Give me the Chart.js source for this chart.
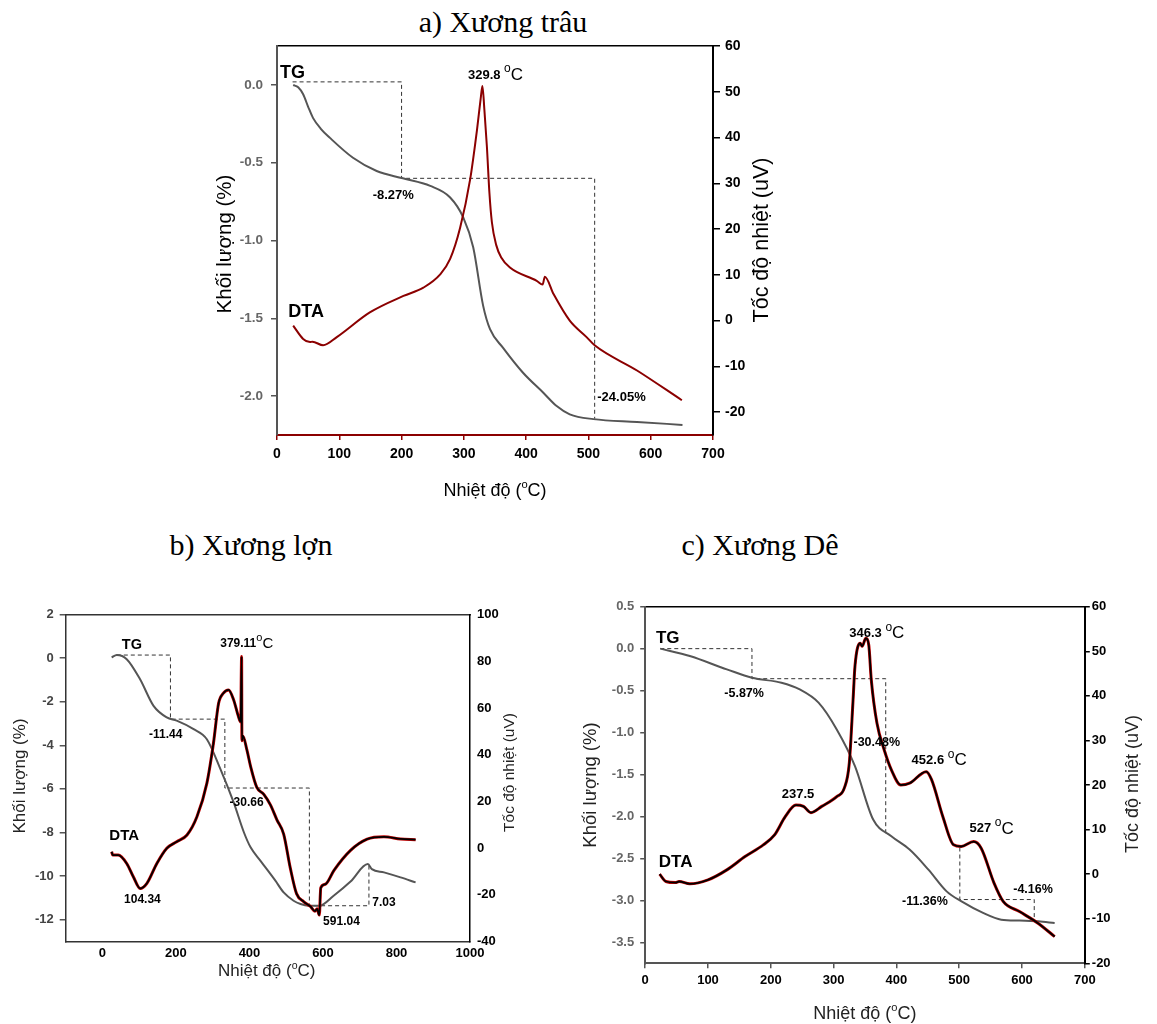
<!DOCTYPE html>
<html lang="vi">
<head>
<meta charset="utf-8">
<title>TG - DTA</title>
<script src="https://cdn.jsdelivr.net/npm/chart.js@4.4.1/dist/chart.umd.min.js"></script>
<style>
  body { margin: 0; width: 1157px; height: 1024px; position: relative; background: #fff; overflow: hidden; }
  .title { position: absolute; font-family: "Liberation Serif", "Times New Roman", serif; font-size: 30px; line-height: 34px; color: #000; transform: translateX(-50%); white-space: nowrap; }
  canvas { position: absolute; }
</style>
</head>
<body>
<div class="title" style="left:503px; top:5px">a) Xương trâu</div>
<div class="title" style="left:251px; top:528px">b) Xương lợn</div>
<div class="title" style="left:760px; top:528px">c) Xương Dê</div>
<canvas id="chartA" width="600" height="480" style="left:200px; top:30px"></canvas>
<canvas id="chartB" width="540" height="410" style="left:0px; top:590px"></canvas>
<canvas id="chartC" width="582" height="434" style="left:575px; top:590px"></canvas>
<script>
// ---- a) Xương trâu ----
const tgTempA = [26, 34, 42, 50, 58, 70, 85, 122, 160, 202, 246, 278, 299, 315, 331, 342, 363, 395, 428, 449, 470, 508, 578, 651];
const tgMassA = [0.0, -0.015, -0.06, -0.14, -0.213, -0.28, -0.34, -0.468, -0.553, -0.60, -0.649, -0.723, -0.851, -1.043, -1.42, -1.57, -1.69, -1.85, -1.98, -2.064, -2.117, -2.148, -2.166, -2.185];
const dtaTempA = [26, 42, 53, 57, 74, 96, 149, 203, 235, 262, 278, 294, 310, 321, 327, 329.8, 333, 337, 341, 345, 352, 360, 374, 417, 426.5, 430, 444, 470, 497, 510, 578, 650];
const dtaUvA = [-1.1, -4.0, -4.7, -4.6, -5.4, -3.6, 1.8, 5.4, 7.2, 10.1, 13.5, 20.3, 30.8, 41.6, 48.5, 51.3, 46, 38, 28, 21.5, 16.5, 13.8, 11.6, 8.7, 7.9, 9.6, 5.8, 0.0, -3.6, -5.4, -10.9, -17.4];
const stepTempA = [25, 200, 200, 510, 510];
const stepMassA = [0.02, 0.02, -0.60, -0.60, -2.145];
const tempTicksA = [0, 100, 200, 300, 400, 500, 600, 700];
const massTicksA = [0.0, -0.5, -1.0, -1.5, -2.0];
const uvTicksA = [60, 50, 40, 30, 20, 10, 0, -10, -20];

// ---- b) Xương lợn ----
const tgTempB = [25, 39, 66, 102, 139, 175, 202, 248, 284, 321, 357, 385, 403, 430, 470, 493, 520, 539, 560, 590, 629, 675, 722, 733, 766, 811, 852];
const tgMassB = [0.03, 0.14, -0.05, -0.96, -2.19, -2.72, -2.87, -3.26, -3.72, -5.09, -6.62, -8.0, -8.68, -9.3, -10.2, -10.75, -11.13, -11.28, -11.36, -11.36, -10.9, -10.25, -9.45, -9.68, -9.83, -10.06, -10.29];
const dtaTempB = [25, 28, 43, 66, 84, 102.5, 121, 148, 175, 202, 230, 257, 284, 302, 316, 329, 343, 357, 370, 376, 378.6, 379.4, 382, 393, 403, 420, 439, 457, 475, 493, 511, 528, 548, 566, 578, 584, 590, 594, 606, 630, 675, 720, 766, 811, 852];
const dtaUvB = [-1.6, -3, -3, -6.6, -12.3, -17.3, -15.1, -6.6, -0.1, 2.7, 5.6, 13.4, 27.7, 44.9, 62, 66.3, 67.7, 63.4, 56.3, 54, 82, 46, 48, 42, 35, 26, 23, 18.5, 12, 6, -8.5, -19.5, -23, -25, -27, -26, -28.7, -17, -15.5, -9.5, -1, 3.8, 4.8, 3.9, 3.6];
const stepTempB = [39, 185, 185, 333, 333, 563, 563, 725, 725];
const stepMassB = [0.14, 0.14, -2.8, -2.8, -5.96, -5.96, -11.36, -11.36, -9.45];
const tempTicksB = [0, 200, 400, 600, 800, 1000];
const massTicksB = [2, 0, -2, -4, -6, -8, -10, -12];
const uvTicksB = [100, 80, 60, 40, 20, 0, -20, -40];

// ---- c) Xương Dê ----
const tgTempC = [24, 71, 130, 170, 217, 246, 276, 305, 334, 363, 392, 421, 451, 480, 503, 538, 567, 596, 626, 652];
const tgMassC = [0, -0.088, -0.247, -0.347, -0.406, -0.486, -0.644, -0.963, -1.4, -2.037, -2.236, -2.395, -2.634, -2.893, -3.01, -3.15, -3.23, -3.24, -3.25, -3.27];
const dtaTempC = [23, 33, 48, 54, 71, 100, 130, 159, 188, 206, 223, 240, 252, 264, 281, 305, 317, 325, 331, 334, 342.5, 345.4, 351.3, 356, 360, 369, 380.5, 392, 407, 421, 447.5, 456, 474, 491, 503, 523, 535, 555.5, 570, 596, 625.5, 652];
const dtaUvC = [0, -1.65, -1.9, -1.65, -2.18, -1.28, 0.96, 3.95, 6.57, 8.8, 12.9, 15.5, 15.2, 13.8, 15.2, 17.4, 19.3, 24.9, 39.1, 46.6, 51.8, 51.1, 52.9, 51.4, 43.6, 33.9, 27.9, 23.4, 20, 20.4, 23, 21.2, 12.9, 6.57, 6.2, 7.3, 5.83, -2, -6.1, -8.4, -11, -14];
const stepTempC1 = [24, 170, 170, 383, 383];
const stepMassC1 = [0, 0, -0.358, -0.358, -2.21];
const stepTempC2 = [501, 501, 619.5, 619.5];
const stepMassC2 = [-2.37, -2.99, -2.99, -3.25];
const tempTicksC = [0, 100, 200, 300, 400, 500, 600, 700];
const massTicksC = [0.5, 0.0, -0.5, -1.0, -1.5, -2.0, -2.5, -3.0, -3.5];
const uvTicksC = [60, 50, 40, 30, 20, 10, 0, -10, -20];

const FONT = '"Liberation Sans", Arial, sans-serif';
const GRAY = '#555';
const DARKRED = '#8b0000';

const pts = (xs, ys) => xs.map((x, i) => ({ x, y: ys[i] }));
const bold = (t, s) => ({ t, font: `bold ${s}px ${FONT}` });
const reg = (t, s) => ({ t, font: `${s}px ${FONT}` });
const sup = (s, dy) => ({ t: 'o', font: `${s}px ${FONT}`, dy });

// draws a run of text pieces with different fonts on one line
function drawRun(ctx, parts, x, y, align, color) {
  let total = 0;
  parts.forEach(p => { ctx.font = p.font; p.w = ctx.measureText(p.t).width; total += p.w; });
  let cx = align === 'center' ? x - total / 2 : (align === 'right' ? x - total : x);
  ctx.textAlign = 'left';
  ctx.textBaseline = 'middle';
  ctx.fillStyle = color || '#000';
  parts.forEach(p => {
    ctx.font = p.font;
    ctx.fillText(p.t, cx, y + (p.dy || 0));
    cx += p.w;
  });
}

const textPlugin = {
  id: 'texts',
  afterDatasetsDraw(chart, args, opts) {
    const ctx = chart.ctx;
    const xs = chart.scales.x, ys = chart.scales.y;
    ctx.save();
    (opts.labels || []).forEach(l => {
      drawRun(ctx, l.parts, xs.getPixelForValue(l.x), ys.getPixelForValue(l.y), l.align || 'left');
    });
    (opts.titles || []).forEach(t => {
      ctx.save();
      ctx.translate(t.px, t.py);
      if (t.rotate) ctx.rotate(-Math.PI / 2);
      drawRun(ctx, t.parts, 0, 0, 'center', t.color);
      ctx.restore();
    });
    ctx.restore();
  }
};

function fixTicks(values) {
  return scale => { scale.ticks = values.map(v => ({ value: v })); };
}

function lineSet(data, color, width, axis) {
  return {
    data, yAxisID: axis, borderColor: color, borderWidth: width,
    pointRadius: 0, fill: false, cubicInterpolationMode: 'monotone'
  };
}
function dashSet(data) {
  return {
    data, yAxisID: 'y', borderColor: '#333', borderWidth: 1, borderDash: [4, 3],
    pointRadius: 0, fill: false, tension: 0
  };
}

function makeChart(id, cfg) {
  const tickFont = s => ({ family: FONT, size: s, weight: 'bold' });
  const grid = (color, len, show) => ({
    display: show, drawOnChartArea: false, drawTicks: show, tickLength: len, color, lineWidth: 1.5
  });
  new Chart(document.getElementById(id), {
    type: 'line',
    data: { datasets: cfg.datasets },
    options: {
      responsive: false, animation: false, devicePixelRatio: 1,
      layout: { padding: 0 },
      plugins: { legend: { display: false }, tooltip: { enabled: false }, texts: cfg.texts },
      scales: {
        x: {
          type: 'linear', position: 'bottom', min: cfg.x.min, max: cfg.x.max,
          afterBuildTicks: fixTicks(cfg.x.ticks),
          afterFit: s => { s.height = cfg.box.bottom; },
          ticks: { font: tickFont(cfg.x.size), color: '#000', padding: cfg.x.pad, maxRotation: 0, callback: v => String(v) },
          grid: grid(cfg.x.gridColor, 5, cfg.x.tickMarks),
          border: { display: true, color: cfg.x.border, width: cfg.x.bw }
        },
        xt: {
          type: 'linear', position: 'top', min: cfg.x.min, max: cfg.x.max,
          afterFit: s => { s.height = cfg.box.top; },
          ticks: { display: false }, grid: { display: false, drawTicks: false },
          border: { display: true, color: cfg.topBorder, width: 1.5 }
        },
        y: {
          type: 'linear', position: 'left', min: cfg.y.min, max: cfg.y.max,
          afterBuildTicks: fixTicks(cfg.y.ticks),
          afterFit: s => { s.width = cfg.box.left; },
          ticks: { font: tickFont(cfg.y.size), color: cfg.y.color, padding: cfg.y.pad, callback: cfg.y.fmt },
          grid: grid(GRAY, cfg.y.tl, true),
          border: { display: true, color: cfg.y.border, width: cfg.y.bw }
        },
        y2: {
          type: 'linear', position: 'right', min: cfg.y2.min, max: cfg.y2.max,
          afterBuildTicks: fixTicks(cfg.y2.ticks),
          afterFit: s => { s.width = cfg.box.right; },
          ticks: { font: tickFont(cfg.y2.size), color: '#000', padding: cfg.y2.pad, callback: v => String(v) },
          grid: grid('#000', cfg.y2.tl, cfg.y2.tl > 0),
          border: { display: true, color: '#000', width: cfg.y2.bw }
        }
      }
    },
    plugins: [textPlugin]
  });
}

const degTitle = s => [reg('Nhiệt độ (', s), sup(s * 0.62, -s * 0.35), reg('C)', s)];

// a) Xương trâu  (first dataset is painted on top)
makeChart('chartA', {
  box: { left: 77, right: 87, top: 14, bottom: 75 },
  topBorder: '#000',
  x: { min: 0, max: 700, ticks: tempTicksA, size: 14, pad: 6, gridColor: DARKRED, tickMarks: true, border: DARKRED, bw: 2 },
  y: { min: -2.25, max: 0.25, ticks: massTicksA, size: 13.5, color: '#666', pad: 8, tl: 6, border: GRAY, bw: 2, fmt: v => v.toFixed(1) },
  y2: { min: -25, max: 60, ticks: uvTicksA, size: 14, pad: 5, tl: 7, bw: 2 },
  datasets: [
    lineSet(pts(dtaTempA, dtaUvA), DARKRED, 2, 'y2'),
    lineSet(pts(tgTempA, tgMassA), GRAY, 2, 'y'),
    dashSet(pts(stepTempA, stepMassA))
  ],
  texts: {
    labels: [
      { x: 4.8, y: 0.078, parts: [bold('TG', 18)] },
      { x: 306.6, y: 0.064, parts: [bold('329.8', 13), reg(' ', 13), sup(12, -6), reg('C', 17)] },
      { x: 186.7, y: -0.708, parts: [bold('-8.27%', 13)], align: 'center' },
      { x: 18.1, y: -1.458, parts: [bold('DTA', 18)] },
      { x: 514.2, y: -2.01, parts: [bold('-24.05%', 13)] }
    ],
    titles: [
      { px: 25, py: 214, rotate: true, parts: [reg('Khối lượng (%)', 20.5)] },
      { px: 562, py: 210, rotate: true, parts: [reg('Tốc độ nhiệt (uV)', 21.5)] },
      { px: 295, py: 461, parts: degTitle(18) }
    ]
  }
});

// b) Xương lợn
makeChart('chartB', {
  box: { left: 65.7, right: 70, top: 24.5, bottom: 58.5 },
  topBorder: '#333',
  x: { min: -100, max: 1000, ticks: tempTicksB, size: 13, pad: 4, gridColor: '#333', tickMarks: false, border: '#333', bw: 1.5 },
  y: { min: -13, max: 2, ticks: massTicksB, size: 13, color: '#444', pad: 6, tl: 6, border: '#333', bw: 1.5, fmt: v => String(v) },
  y2: { min: -40, max: 100, ticks: uvTicksB, size: 13, pad: 7, tl: 0, bw: 1.5 },
  datasets: [
    lineSet(pts(dtaTempB, dtaUvB), '#000', 1.8, 'y2'),
    lineSet(pts(dtaTempB, dtaUvB), '#c00000', 3, 'y2'),
    lineSet(pts(tgTempB, tgMassB), GRAY, 2, 'y'),
    dashSet(pts(stepTempB, stepMassB))
  ],
  texts: {
    labels: [
      { x: 52.6, y: 0.6, parts: [bold('TG', 14.5)] },
      { x: 320.5, y: 0.64, parts: [bold('379.11', 12), sup(11, -6), reg('C', 15)] },
      { x: 172, y: -3.52, parts: [bold('-11.44', 12)], align: 'center' },
      { x: 392.2, y: -6.62, parts: [bold('-30.66', 12)], align: 'center' },
      { x: 18.8, y: -8.15, parts: [bold('DTA', 15)] },
      { x: 108.8, y: -11.06, parts: [bold('104.34', 12)], align: 'center' },
      { x: 734, y: -11.24, parts: [bold('7.03', 12)] },
      { x: 650.3, y: -12.1, parts: [bold('591.04', 12)], align: 'center' }
    ],
    titles: [
      { px: 20, py: 186, rotate: true, parts: [reg('Khối lượng (%)', 17)], color: '#222' },
      { px: 510, py: 182.5, rotate: true, parts: [reg('Tốc độ nhiệt (uV)', 15.5)], color: '#222' },
      { px: 266.7, py: 381.7, parts: degTitle(17), color: '#222' }
    ]
  }
});

// c) Xương Dê
makeChart('chartC', {
  box: { left: 70.2, right: 72.2, top: 16.7, bottom: 60.7 },
  topBorder: '#000',
  x: { min: 0, max: 700, ticks: tempTicksC, size: 13, pad: 4, gridColor: GRAY, tickMarks: true, border: GRAY, bw: 2 },
  y: { min: -3.75, max: 0.5, ticks: massTicksC, size: 13, color: '#666', pad: 6, tl: 5, border: GRAY, bw: 2, fmt: v => v.toFixed(1) },
  y2: { min: -20, max: 60, ticks: uvTicksC, size: 13, pad: 2, tl: 5, bw: 2 },
  datasets: [
    lineSet(pts(dtaTempC, dtaUvC), '#000', 1.8, 'y2'),
    lineSet(pts(dtaTempC, dtaUvC), '#c00000', 3, 'y2'),
    lineSet(pts(tgTempC, tgMassC), GRAY, 2, 'y'),
    dashSet(pts(stepTempC1, stepMassC1)),
    dashSet(pts(stepTempC2, stepMassC2))
  ],
  texts: {
    labels: [
      { x: 17, y: 0.119, parts: [bold('TG', 17)] },
      { x: 325, y: 0.179, parts: [bold('346.3', 13), reg(' ', 13), sup(12, -6), reg('C', 17)] },
      { x: 157.5, y: -0.533, parts: [bold('-5.87%', 12.5)], align: 'center' },
      { x: 368.7, y: -1.115, parts: [bold('-30.48%', 12.5)], align: 'center' },
      { x: 424.2, y: -1.33, parts: [bold('452.6', 13), reg(' ', 13), sup(12, -6), reg('C', 17)] },
      { x: 243.3, y: -1.739, parts: [bold('237.5', 13)], align: 'center' },
      { x: 516.3, y: -2.148, parts: [bold('527', 13), reg(' ', 13), sup(12, -6), reg('C', 17)] },
      { x: 21.7, y: -2.546, parts: [bold('DTA', 17)] },
      { x: 617.6, y: -2.872, parts: [bold('-4.16%', 12.5)], align: 'center' },
      { x: 445.4, y: -3.012, parts: [bold('-11.36%', 12.5)], align: 'center' }
    ],
    titles: [
      { px: 16, py: 195, rotate: true, parts: [reg('Khối lượng (%)', 18.5)], color: '#222' },
      { px: 558, py: 194, rotate: true, parts: [reg('Tốc độ nhiệt (uV)', 18)], color: '#222' },
      { px: 289.8, py: 424, parts: degTitle(18), color: '#222' }
    ]
  }
});
</script>
</body>
</html>
